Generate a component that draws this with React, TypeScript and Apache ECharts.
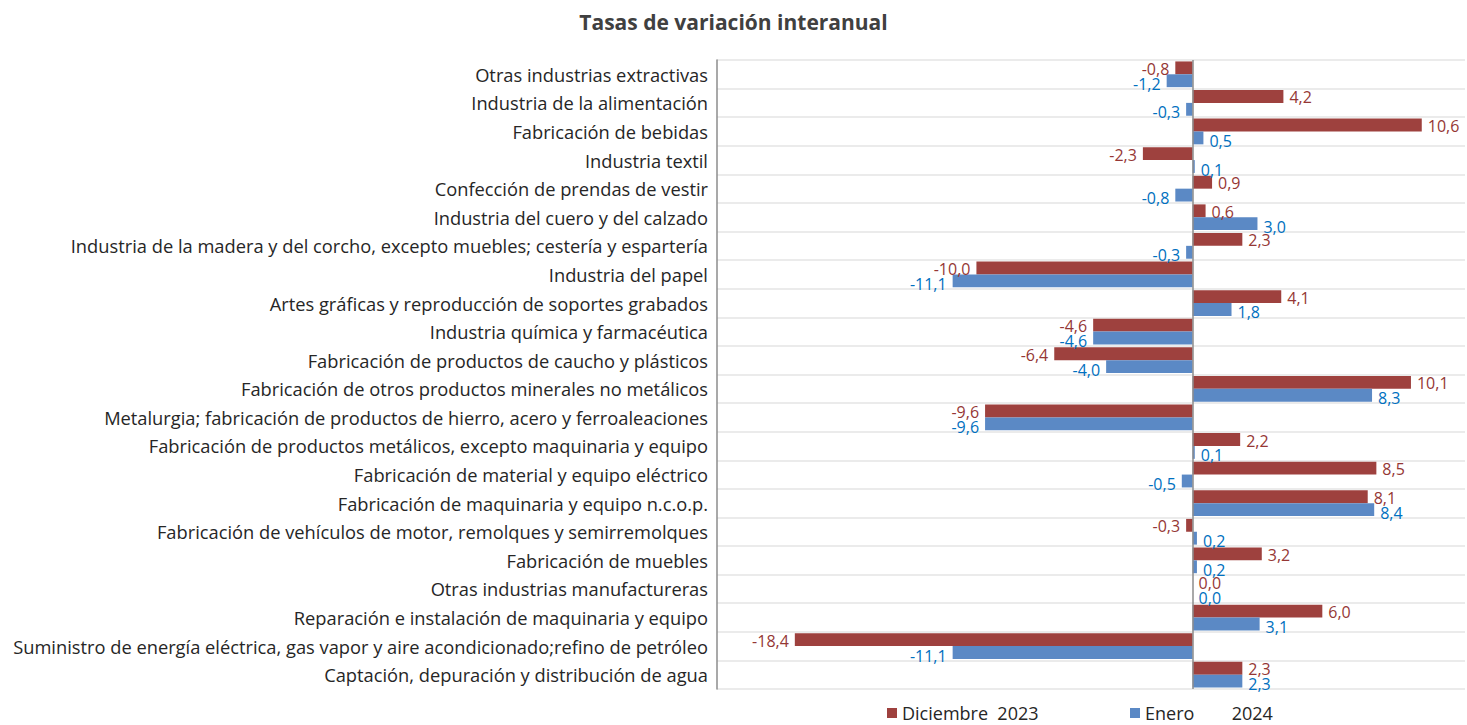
import React, { useEffect, useRef } from "react";
import * as echarts from "echarts";

const categories = [
  "Otras industrias extractivas",
  "Industria de la alimentación",
  "Fabricación de bebidas",
  "Industria textil",
  "Confección de prendas de vestir",
  "Industria del cuero y del calzado",
  "Industria de la madera y del corcho, excepto muebles; cestería y espartería",
  "Industria del papel",
  "Artes gráficas y reproducción de soportes grabados",
  "Industria química y farmacéutica",
  "Fabricación de productos de caucho y plásticos",
  "Fabricación de otros productos minerales no metálicos",
  "Metalurgia; fabricación de productos de hierro, acero y ferroaleaciones",
  "Fabricación de productos metálicos, excepto maquinaria y equipo",
  "Fabricación de material y equipo eléctrico",
  "Fabricación de maquinaria y equipo n.c.o.p.",
  "Fabricación de vehículos de motor, remolques y semirremolques",
  "Fabricación de muebles",
  "Otras industrias manufactureras",
  "Reparación e instalación de maquinaria y equipo",
  "Suministro de energía eléctrica, gas vapor y aire acondicionado;refino de petróleo",
  "Captación, depuración y distribución de agua",
];

const dic2023 = [-0.8, 4.2, 10.6, -2.3, 0.9, 0.6, 2.3, -10.0, 4.1, -4.6, -6.4, 10.1, -9.6, 2.2, 8.5, 8.1, -0.3, 3.2, 0.0, 6.0, -18.4, 2.3];
const ene2024 = [-1.2, -0.3, 0.5, 0.1, -0.8, 3.0, -0.3, -11.1, 1.8, -4.6, -4.0, 8.3, -9.6, 0.1, -0.5, 8.4, 0.2, 0.2, 0.0, 3.1, -11.1, 2.3];

const seriesNames = ["Diciembre 2023", "Enero 2024"];
const FONT = "'Open Sans', sans-serif";

function fmt(v: number) {
  return v.toFixed(1).replace(".", ",");
}

function makeData(values: number[], color: string, dy: number) {
  return values.map((v) => ({
    value: v,
    label: {
      show: true,
      position: v < 0 ? "left" : "right",
      distance: 6,
      offset: [0, dy],
      color,
      fontSize: 16,
      fontFamily: FONT,
      formatter: () => fmt(v),
    },
  }));
}

export default function App() {
  const ref = useRef<HTMLDivElement>(null);
  useEffect(() => {
    document.body.style.margin = "0";
    if (!ref.current) return;
    const chart = echarts.init(ref.current, undefined, { renderer: "svg" });
    chart.setOption({
      animation: false,
      backgroundColor: "#ffffff",
      title: {
        text: "Tasas de variación interanual",
        left: "center",
        top: 6,
        textStyle: { fontFamily: FONT, fontSize: 21, fontWeight: "bold", color: "#404040" },
      },
      legend: [
        {
          data: [seriesNames[0]],
          left: 887,
          top: 704,
          padding: 0,
          itemWidth: 10,
          itemHeight: 10,
          itemGap: 6,
          icon: "rect",
          formatter: (n: string) => n.replace(" ", "\u00a0\u00a0"),
          textStyle: { fontFamily: FONT, fontSize: 18, color: "#262626" },
        },
        {
          data: [seriesNames[1]],
          left: 1130,
          top: 704,
          padding: 0,
          itemWidth: 10,
          itemHeight: 10,
          icon: "rect",
          formatter: (n: string) => n.replace(" ", "\u00a0\u00a0\u00a0\u00a0\u00a0\u00a0\u00a0\u00a0"),
          textStyle: { fontFamily: FONT, fontSize: 18, color: "#262626" },
        },
      ],
      grid: { left: 717, right: 2, top: 60, bottom: 36, containLabel: false },
      xAxis: {
        type: "value",
        min: -22,
        max: 12.6,
        axisLabel: { show: false },
        axisLine: { show: false },
        axisTick: { show: false },
        splitLine: { show: false },
      },
      yAxis: {
        type: "category",
        inverse: true,
        data: categories,
        axisLine: { show: true, onZero: false, lineStyle: { color: "#8c8c8c", width: 1.5 } },
        axisTick: { show: false },
        axisLabel: {
          fontFamily: FONT,
          fontSize: 18.3,
          color: "#262626",
          margin: 9,
        },
        splitLine: { show: true, lineStyle: { color: "#ebebeb", width: 2 } },
      },
      series: [
        {
          name: seriesNames[0],
          type: "bar",
          barGap: "0%",
          barCategoryGap: "10%",
          itemStyle: { color: "#9e413e" },
          data: makeData(dic2023, "#953735", 1),
          markLine: {
            silent: true,
            symbol: "none",
            label: { show: false },
            lineStyle: { color: "#8c8c8c", type: "solid", width: 1.5 },
            data: [{ xAxis: 0 }],
          },
        },
        {
          name: seriesNames[1],
          type: "bar",
          barGap: "0%",
          barCategoryGap: "10%",
          itemStyle: { color: "#5b89c5" },
          data: makeData(ene2024, "#0070c0", 3),
        },
      ],
    });
    return () => chart.dispose();
  }, []);
  return <div ref={ref} style={{ width: 1467, height: 725 }} />;
}
